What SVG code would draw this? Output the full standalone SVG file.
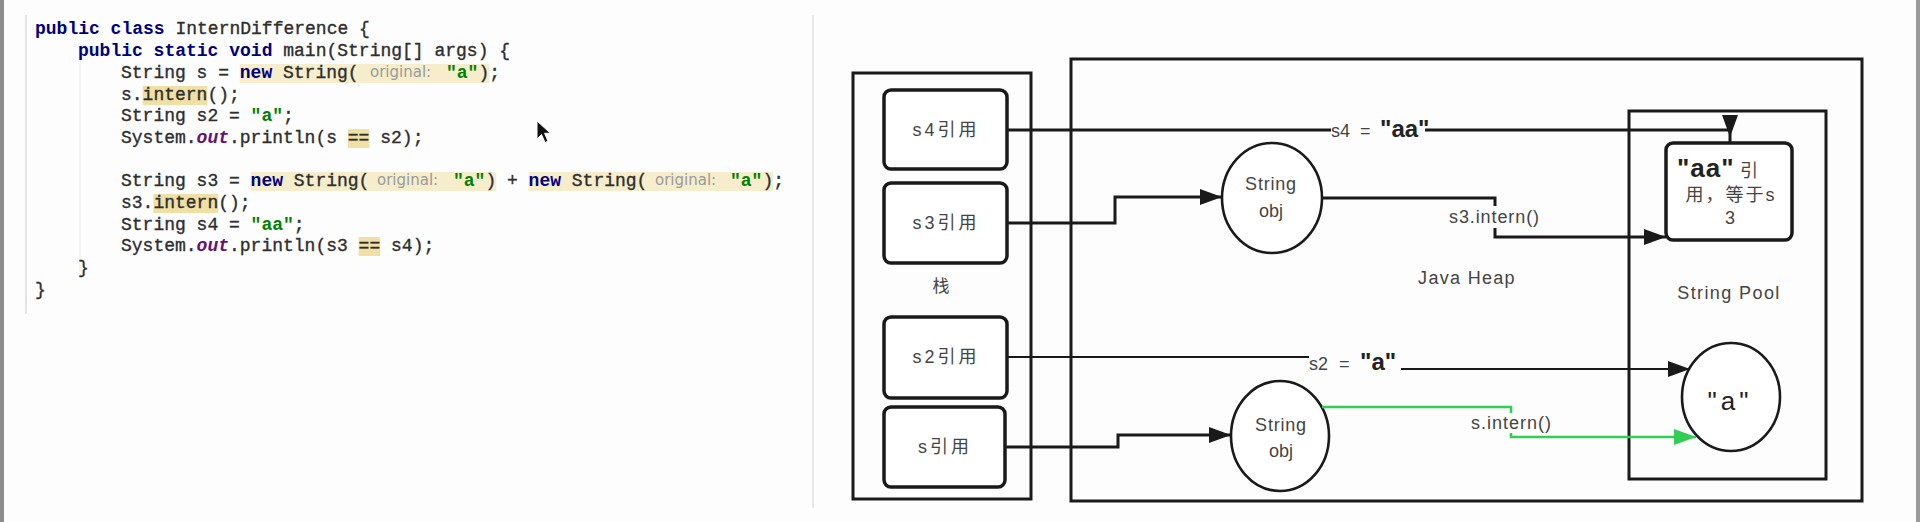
<svg xmlns="http://www.w3.org/2000/svg" width="1920" height="522" viewBox="0 0 1920 522">
<style>
.code{font-family:"Liberation Mono","DejaVu Sans Mono",monospace;font-size:18px;fill:#2e2e2e;stroke:#2e2e2e;stroke-width:0.35;white-space:pre}
.kw{font-weight:bold;fill:#000080;stroke:none}
.str{font-weight:bold;fill:#008000;stroke:none}
.fld{font-weight:bold;font-style:italic;fill:#660e7a;stroke:none}
.hint{font-family:"DejaVu Sans","Liberation Sans",sans-serif;font-size:15px;fill:#9a9a9a}
.hl{fill:#f6edcc}
.hl2{fill:#f0e0a6}
.cont{fill:none;stroke:#1a1a1a;stroke-width:3}
.ref{fill:#fff;stroke:#1a1a1a;stroke-width:3.5}
.circ{fill:#fff;stroke:#1a1a1a;stroke-width:2.6}
.lbl{font-family:"Liberation Sans","Noto Sans CJK SC",sans-serif;font-size:18px;fill:#444;text-anchor:middle}
.elbl{font-family:"Liberation Sans","Noto Sans CJK SC",sans-serif;font-size:18px;fill:#444}
.big{font-family:"Liberation Sans",sans-serif;font-weight:bold;fill:#222}
.edge{fill:none;stroke:#1a1a1a;stroke-width:3}
.thin{fill:none;stroke:#1a1a1a;stroke-width:1.8}
.green{fill:none;stroke:#33cc55;stroke-width:2.6}
</style>
<defs>
<marker id="arr" markerUnits="userSpaceOnUse" markerWidth="22" markerHeight="16" viewBox="0 0 22 16" refX="22" refY="8" orient="auto"><path d="M0,0 L22,8 L0,16 z" fill="#1a1a1a"/></marker>
<marker id="arrg" markerUnits="userSpaceOnUse" markerWidth="22" markerHeight="16" viewBox="0 0 22 16" refX="22" refY="8" orient="auto"><path d="M0,0 L22,8 L0,16 z" fill="#33cc55"/></marker>
</defs>
<rect x="0" y="0" width="1920" height="522" fill="#fdfdfd"/>
<rect x="0" y="0" width="4" height="522" fill="#8c8c8c"/>
<rect x="1916" y="0" width="4" height="522" fill="#9a9a9a"/>
<line x1="813" y1="15" x2="813" y2="508" stroke="#e2e2e2" stroke-width="1.5"/>

<g id="code">
<line x1="26" y1="15" x2="26" y2="314" stroke="#dcdcdc" stroke-width="1.5"/>
<line x1="80" y1="58" x2="80" y2="272" stroke="#eeeeee" stroke-width="1.2"/>
<rect class="hl" x="239.8" y="64" width="249.4" height="19"/>
<rect class="hl2" x="142.6" y="86" width="64.8" height="19"/>
<rect class="hl2" x="347.8" y="129" width="21.6" height="19"/>
<rect class="hl" x="250.6" y="172" width="245.6" height="19"/>
<rect class="hl" x="528.6" y="172" width="244.6" height="19"/>
<rect class="hl2" x="153.4" y="194" width="64.8" height="19"/>
<rect class="hl2" x="358.6" y="237" width="21.6" height="19"/>
<text class="code" x="35" y="34"><tspan class="kw">public class</tspan> InternDifference {</text>
<text class="code" x="78" y="56"><tspan class="kw">public static void</tspan> main(String[] args) {</text>
<text class="code" y="78"><tspan x="121">String s = </tspan><tspan x="239.8" class="kw">new</tspan><tspan x="272.2"> String(</tspan></text>
<text class="hint" x="370" y="77">original:</text>
<text class="code" y="78"><tspan x="446" class="str">"a"</tspan><tspan x="478.4">);</tspan></text>
<text class="code" x="121" y="100">s.intern();</text>
<text class="code" y="121"><tspan x="121">String s2 = </tspan><tspan x="250.6" class="str">"a"</tspan><tspan x="283">;</tspan></text>
<text class="code" y="143"><tspan x="121">System.</tspan><tspan x="196.6" class="fld">out</tspan><tspan x="229">.println(s == s2);</tspan></text>
<text class="code" y="186"><tspan x="121">String s3 = </tspan><tspan x="250.6" class="kw">new</tspan><tspan x="283"> String(</tspan></text>
<text class="hint" x="377" y="185">original:</text>
<text class="code" y="186"><tspan x="453" class="str">"a"</tspan><tspan x="485.4">) + </tspan><tspan x="528.6" class="kw">new</tspan><tspan x="561"> String(</tspan></text>
<text class="hint" x="655" y="185">original:</text>
<text class="code" y="186"><tspan x="730" class="str">"a"</tspan><tspan x="762.4">);</tspan></text>
<text class="code" x="121" y="208">s3.intern();</text>
<text class="code" y="230"><tspan x="121">String s4 = </tspan><tspan x="250.6" class="str">"aa"</tspan><tspan x="293.8">;</tspan></text>
<text class="code" y="251"><tspan x="121">System.</tspan><tspan x="196.6" class="fld">out</tspan><tspan x="229">.println(s3 == s4);</tspan></text>
<text class="code" x="78" y="273">}</text>
<text class="code" x="35" y="295">}</text>
<path d="M537,121 L537,139 L541.5,134.5 L545,142.5 L548,141.2 L544.6,133.3 L550.5,133.3 Z" fill="#111" stroke="#fff" stroke-width="1"/>
</g>

<g id="stack">
<rect class="cont" x="853" y="73" width="178" height="426"/>
<text class="lbl" x="941" y="292" style="font-size:17px">栈</text>
</g>
<g id="heap">
<rect class="cont" x="1071" y="59" width="791" height="442"/>
<text class="lbl" x="1467" y="284" style="letter-spacing:1.3px">Java Heap</text>
</g>
<g id="pool">
<rect class="cont" x="1629" y="111" width="197" height="368"/>
<text class="lbl" x="1729" y="299" style="letter-spacing:1.4px">String Pool</text>
</g>

<g id="s4ref">
<rect class="ref" x="884" y="90" width="123" height="79" rx="7"/>
<text class="lbl" x="946" y="136" style="letter-spacing:3px">s4引用</text>
</g>
<g id="s3ref">
<rect class="ref" x="884" y="183" width="123" height="80" rx="7"/>
<text class="lbl" x="946" y="229" style="letter-spacing:3px">s3引用</text>
</g>
<g id="s2ref">
<rect class="ref" x="884" y="317" width="123" height="81" rx="7"/>
<text class="lbl" x="946" y="363" style="letter-spacing:3px">s2引用</text>
</g>
<g id="sref">
<rect class="ref" x="884" y="407" width="121" height="80" rx="7"/>
<text class="lbl" x="945" y="453" style="letter-spacing:3px">s引用</text>
</g>

<g id="s3obj">
<ellipse class="circ" cx="1272" cy="198" rx="50" ry="55"/>
<text class="lbl" x="1271" y="190" style="letter-spacing:0.8px">String</text>
<text class="lbl" x="1271" y="217">obj</text>
</g>
<g id="sobj">
<ellipse class="circ" cx="1280" cy="436" rx="49" ry="55"/>
<text class="lbl" x="1281" y="431" style="letter-spacing:0.8px">String</text>
<text class="lbl" x="1281" y="457">obj</text>
</g>
<g id="aaref">
<rect class="ref" x="1666" y="143" width="126" height="97" rx="7"/>
<text y="177"><tspan x="1677" class="big" style="font-size:26px;letter-spacing:1px">"aa"</tspan><tspan x="1740" class="elbl">引</tspan></text>
<text class="lbl" x="1731" y="201" style="letter-spacing:2px">用，等于s</text>
<text class="lbl" x="1730" y="224">3</text>
</g>
<g id="aobj">
<ellipse class="circ" cx="1731" cy="397" rx="49" ry="54"/>
<text class="big" x="1730" y="410" text-anchor="middle" style="font-size:26px;font-weight:normal;letter-spacing:4px">"a"</text>
</g>

<g id="connectors">
<path class="edge" d="M1007,130 H1331"/>
<path class="edge" d="M1425,130 H1730 V137" marker-end="url(#arr)"/>
<path class="edge" d="M1730,137 V143"/>
<path class="edge" d="M1007,223 H1115 V197 H1222" marker-end="url(#arr)"/>
<path class="edge" d="M1005,447 H1118 V435 H1231" marker-end="url(#arr)"/>
<path class="edge" d="M1322,198 H1495 V237 H1666" marker-end="url(#arr)"/>
<path class="thin" d="M1007,357 H1309"/>
<path class="thin" d="M1401,369 H1690" marker-end="url(#arr)"/>
<path class="green" d="M1322,407 H1511 V437 H1696" marker-end="url(#arrg)"/>
<rect x="1444" y="206" width="102" height="22" fill="#fdfdfd"/>
<text class="elbl" x="1449" y="223" style="letter-spacing:0.9px">s3.intern()</text>
<rect x="1468" y="413" width="88" height="20" fill="#fdfdfd"/>
<text class="elbl" x="1471" y="429" style="letter-spacing:1px">s.intern()</text>
<text y="137"><tspan x="1331" class="elbl">s4</tspan><tspan x="1360" class="elbl">=</tspan><tspan x="1380" class="big" style="font-size:24px">"aa"</tspan></text>
<text y="370"><tspan x="1309" class="elbl">s2</tspan><tspan x="1339" class="elbl">=</tspan><tspan x="1360" class="big" style="font-size:24px">"a"</tspan></text>
</g>
</svg>
